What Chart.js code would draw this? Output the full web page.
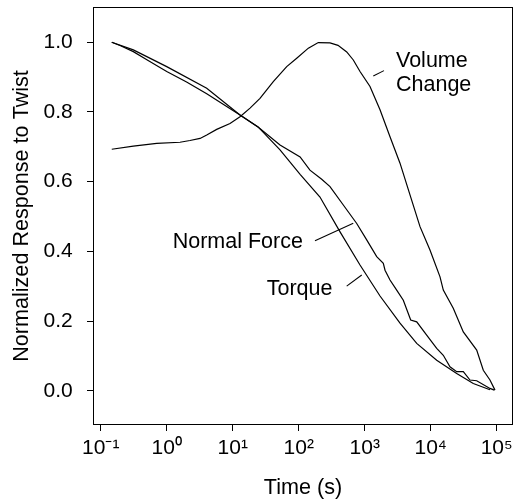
<!DOCTYPE html>
<html><head><meta charset="utf-8">
<script src="https://cdn.jsdelivr.net/npm/chart.js@4"></script>
<style>html,body{margin:0;padding:0;background:#fff;}canvas{display:block;}</style>
</head><body>
<canvas id="c" width="519" height="503"></canvas>
<script>
// ---- data (time in seconds, normalized response) ----
const torqueTime  = [0.147, 0.312, 1.0, 4.04, 12.9, 24.2, 52.1, 105, 210, 423, 849, 1706, 3427, 6138, 12330, 24770, 44160, 79070];
const torqueValue = [1.000, 0.978, 0.930, 0.868, 0.791, 0.757, 0.691, 0.621, 0.556, 0.456, 0.361, 0.272, 0.194, 0.136, 0.088, 0.050, 0.021, 0.003];

const normalTime  = [0.147, 0.2, 0.312, 0.5, 1.0, 2.0, 4.04, 12.9, 24.2, 52.1, 105, 148, 223, 298, 474, 757, 1072, 1520, 1914, 2032, 2417, 3053, 3846, 4977, 6138, 8690, 12330, 15520, 19590, 24770, 31190, 39360, 49770, 79070, 92040];
const normalValue = [1.000, 0.990, 0.973, 0.950, 0.916, 0.886, 0.852, 0.791, 0.757, 0.705, 0.671, 0.633, 0.607, 0.586, 0.533, 0.480, 0.433, 0.385, 0.366, 0.346, 0.318, 0.289, 0.260, 0.203, 0.198, 0.160, 0.122, 0.102, 0.069, 0.055, 0.055, 0.031, 0.029, 0.007, 0.002];

const volumeTime  = [0.147, 0.312, 0.705, 1.59, 2.25, 3.20, 4.04, 5.72, 9.10, 12.9, 18.3, 25.9, 41.2, 65.8, 93.3, 140, 198, 298, 394, 534, 672, 849, 1203, 1706, 2417, 3427, 4856, 6886, 9750, 13840, 15520, 21980, 31190, 49770, 62660, 79070, 94190];
const volumeValue = [0.693, 0.702, 0.710, 0.713, 0.718, 0.724, 0.734, 0.750, 0.767, 0.786, 0.811, 0.839, 0.887, 0.930, 0.954, 0.983, 0.999, 0.998, 0.991, 0.972, 0.949, 0.916, 0.873, 0.806, 0.729, 0.653, 0.562, 0.471, 0.404, 0.327, 0.289, 0.237, 0.169, 0.117, 0.059, 0.031, 0.002];

const xTickValues = [0.1, 1, 10, 100, 1000, 10000, 100000];
const xTickLabels = ['10\u207B\u00B9', '10\u2070', '10\u00B9', '10\u00B2', '10\u00B3', '10\u2074', '10\u2075'];
const yTickValues = [0, 0.2, 0.4, 0.6, 0.8, 1.0];
const yTickLabels = ['0.0', '0.2', '0.4', '0.6', '0.8', '1.0'];
const xTitle = 'Time (s)';
const yTitle = 'Normalized Response to Twist';

// annotation labels (anchored in data space: left edge, baseline)
const annotationTexts = ['Volume', 'Change', 'Normal Force', 'Torque'];
const annotationX = [2980, 2980, 1.233, 32.7];
const annotationY = [0.930, 0.861, 0.4104, 0.2755];
// pointer lines (data space)
const pointerX1 = [1349, 176.6, 533];
const pointerY1 = [0.9033, 0.4305, 0.3005];
const pointerX2 = [1959, 671, 902];
const pointerY2 = [0.9185, 0.4805, 0.3321];

const toXY = (xs, ys) => xs.map((x, i) => ({x, y: ys[i]}));

const FONT = "'Liberation Sans', Arial, Helvetica, sans-serif";
Chart.defaults.font.family = FONT;
Chart.defaults.color = '#000';

const boxAndNotes = {
  id: 'boxAndNotes',
  afterDraw(chart) {
    const {ctx, chartArea: a, scales: {x, y}} = chart;
    ctx.save();
    ctx.strokeStyle = '#000';
    ctx.lineWidth = 1;
    ctx.strokeRect(Math.round(a.left) + 0.5, Math.round(a.top) + 0.5,
                   Math.round(a.right - a.left) - 1, Math.round(a.bottom - a.top) - 1);
    ctx.lineWidth = 1.1;
    for (let i = 0; i < pointerX1.length; i++) {
      ctx.beginPath();
      ctx.moveTo(x.getPixelForValue(pointerX1[i]), y.getPixelForValue(pointerY1[i]));
      ctx.lineTo(x.getPixelForValue(pointerX2[i]), y.getPixelForValue(pointerY2[i]));
      ctx.stroke();
    }
    ctx.fillStyle = '#000';
    ctx.font = '21.5px ' + FONT;
    ctx.textAlign = 'left';
    ctx.textBaseline = 'alphabetic';
    for (let i = 0; i < annotationTexts.length; i++) {
      ctx.fillText(annotationTexts[i], x.getPixelForValue(annotationX[i]), y.getPixelForValue(annotationY[i]));
    }
    ctx.restore();
  }
};

const lineStyle = {borderColor: '#000', borderWidth: 1.2, pointRadius: 0, tension: 0, fill: false};

new Chart(document.getElementById('c'), {
  type: 'line',
  data: {
    datasets: [
      Object.assign({label: 'Torque', data: toXY(torqueTime, torqueValue)}, lineStyle),
      Object.assign({label: 'Normal Force', data: toXY(normalTime, normalValue)}, lineStyle),
      Object.assign({label: 'Volume Change', data: toXY(volumeTime, volumeValue)}, lineStyle)
    ]
  },
  options: {
    responsive: false,
    animation: false,
    devicePixelRatio: 1,
    layout: {padding: {top: 7, right: 6, left: 0, bottom: 0}},
    plugins: {legend: {display: false}, tooltip: {enabled: false}},
    scales: {
      x: {
        type: 'logarithmic',
        min: 0.0764,
        max: 176600,
        border: {display: false},
        grid: {drawOnChartArea: false, drawTicks: true, tickLength: 6, color: '#000', lineWidth: 1},
        ticks: {
          autoSkip: false, maxRotation: 0, padding: 4.4,
          font: {size: 21},
          callback: (v, i) => xTickLabels[i]
        },
        afterBuildTicks: (s) => { s.ticks = xTickValues.map(v => ({value: v})); },
        afterFit: (s) => { s.height = 78; s.paddingLeft = 0; s.paddingRight = 0; s.paddingTop = 0; s.paddingBottom = 0; },
        title: {display: true, text: xTitle, font: {size: 21.6}, padding: {top: 0, bottom: 2}}
      },
      y: {
        type: 'linear',
        min: -0.098,
        max: 1.101,
        border: {display: false},
        grid: {drawOnChartArea: false, drawTicks: true, tickLength: 6, color: '#000', lineWidth: 1},
        ticks: {
          padding: 14.3,
          font: {size: 21},
          callback: (v, i) => yTickLabels[i]
        },
        afterBuildTicks: (s) => { s.ticks = yTickValues.map(v => ({value: v})); },
        afterFit: (s) => { s.width = 93; s.paddingLeft = 0; s.paddingRight = 0; s.paddingTop = 0; s.paddingBottom = 0; },
        title: {display: true, text: yTitle, font: {size: 21.6}, padding: {top: 8.7, bottom: 0}}
      }
    }
  },
  plugins: [boxAndNotes]
});
</script>
</body></html>
